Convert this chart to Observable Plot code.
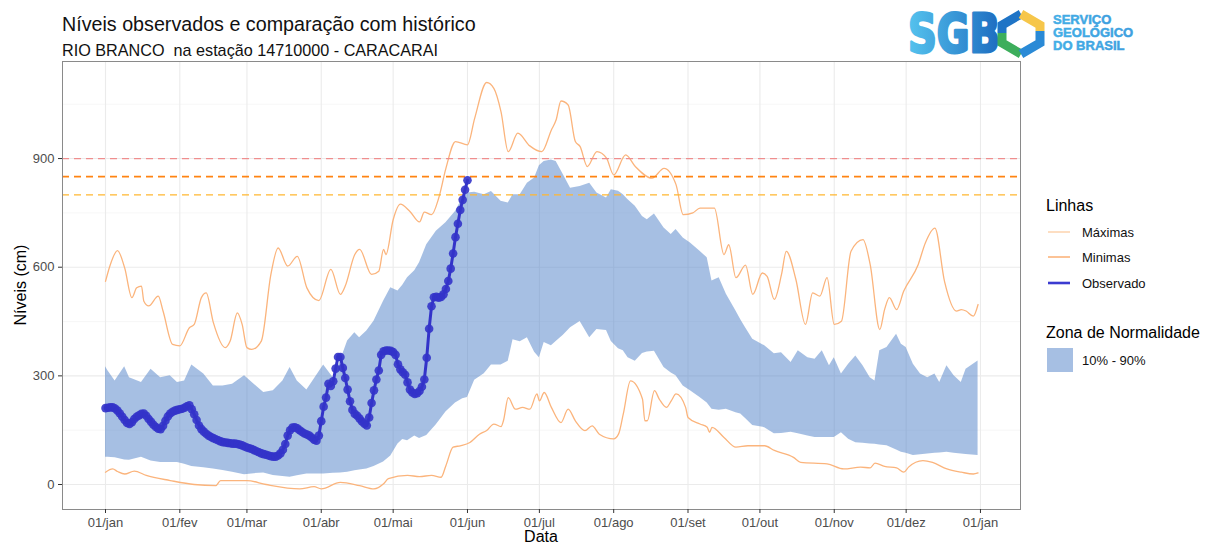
<!DOCTYPE html>
<html><head><meta charset="utf-8">
<script src="https://cdn.jsdelivr.net/npm/d3@7"></script>
<script src="https://cdn.jsdelivr.net/npm/@observablehq/plot@0.6"></script>
<style>
body{margin:0;background:#fff;font-family:"Liberation Sans",Arial,sans-serif;}
#wrap{position:relative;width:1211px;height:545px;overflow:hidden;background:#fff;}
#chart{position:absolute;left:0;top:0;}
#overlay{position:absolute;left:0;top:0;pointer-events:none;}
#overlay text{white-space:pre;}
</style></head><body><div id="wrap"><div id="chart"></div>
<svg id="overlay" width="1211" height="545" xmlns="http://www.w3.org/2000/svg" font-family="Liberation Sans, Arial, sans-serif">
  <defs>
    <linearGradient id="sgb" x1="0" x2="1" y1="0" y2="0">
      <stop offset="0" stop-color="#55C3EE"/><stop offset="1" stop-color="#1D6CC0"/>
    </linearGradient>
    <linearGradient id="sgbt" x1="0" x2="1" y1="0" y2="0">
      <stop offset="0" stop-color="#43AEE6"/><stop offset="1" stop-color="#3E9FDF"/>
    </linearGradient>
  </defs>
  <text x="62" y="31" font-size="19.7" fill="#111">Níveis observados e comparação com histórico</text>
  <text x="62" y="56" font-size="16.2" fill="#111" xml:space="preserve">RIO BRANCO  na estação 14710000 - CARACARAI</text>
  <!-- logo -->
  <text x="908" y="52" font-size="54" font-weight="bold" font-family="DejaVu Sans, sans-serif" fill="url(#sgb)" stroke="url(#sgb)" stroke-width="3" stroke-linejoin="round" textLength="92" lengthAdjust="spacingAndGlyphs">SGB</text>
  <g fill="none" stroke-width="9" stroke-linejoin="miter">
    <path d="M1021,14 L1002,25 L1002,33" stroke="#1F74C6"/>
    <path d="M1002,33 L1002,43 L1021,54" stroke="#3DAE5C"/>
    <path d="M1021,14 L1040,25 L1040,31" stroke="#F6C64A"/>
    <path d="M1040,31 L1040,43 L1021,54" stroke="#2A8AD6"/>
  </g>
  <g font-size="13" font-weight="bold" fill="url(#sgbt)" stroke="url(#sgbt)" stroke-width="0.5">
    <text x="1053" y="24">SERVIÇO</text>
    <text x="1053" y="37">GEOLÓGICO</text>
    <text x="1053" y="50">DO BRASIL</text>
  </g>
  <!-- axis titles -->
  <text transform="translate(26,285) rotate(-90)" text-anchor="middle" font-size="16" fill="#000">Níveis (cm)</text>
  <text x="541" y="542" text-anchor="middle" font-size="16" fill="#000">Data</text>
  <!-- legend -->
  <text x="1046" y="211" font-size="16" fill="#000">Linhas</text>
  <line x1="1048" x2="1070" y1="232" y2="232" stroke="#FCC89A" stroke-width="1.2"/>
  <text x="1082" y="236.5" font-size="13" fill="#111">Máximas</text>
  <line x1="1048" x2="1070" y1="257" y2="257" stroke="#FBB47C" stroke-width="1.6"/>
  <text x="1082" y="261.5" font-size="13" fill="#111">Minimas</text>
  <line x1="1048" x2="1070" y1="283" y2="283" stroke="#3B3BD0" stroke-width="2.6"/>
  <text x="1082" y="287.5" font-size="13" fill="#111">Observado</text>
  <text x="1046" y="338" font-size="16" fill="#000">Zona de Normalidade</text>
  <rect x="1047" y="348" width="26" height="24" fill="rgb(77,127,199)" fill-opacity="0.5"/>
  <text x="1082" y="365" font-size="13" fill="#111">10% - 90%</text>
</svg>
</div>
<script>
// ---------- data ----------
const monthLabels = ["jan","fev","mar","abr","mai","jun","jul","ago","set","out","nov","dez","jan"];
const yMajor = [0, 300, 600, 900];
const yMinor = [150, 450, 750, 1050];
const refLevels = [900, 850, 800];

// observed: daily values from 01/jan
const obsValues = [211,212,213,213,210,204,196,187,178,170,
 167,172,181,187,191,195,196,190,181,173,
 165,159,154,153,162,176,188,196,201,204,
 206,208,209,212,216,219,208,194,178,163,
 153,146,140,135,131,128,125,122,119,117,
 116,115,114,113,113,112,110,108,105,102,
 100,98,95,92,89,86,84,82,80,78,
 77,77,80,86,96,112,135,150,157,158,
 155,150,145,141,138,135,130,124,121,135,
 175,215,240,278,272,285,320,352,352,322,
 294,262,230,206,195,190,182,174,168,163,
 185,225,260,290,315,358,368,370,370,369,
 366,358,332,318,310,303,282,262,254,250,
 252,258,270,290,350,430,492,517,518,516,
 518,525,540,562,596,638,683,720,758,786,
 814,840];

const maxDays = [0,2,5,8,11,13,15,16,18,22,24,28,31,35,37,40,42,45,50,52,55,57,59,61,65,69,72,76,80,84,89,94,98,100,104,106,111,114,116,117,120,123,127,131,133,136,139,142,146,151,154,159,162,165,168,172,177,182,186,188,190,193,196,198,201,205,209,212,217,221,228,233,238,241,245,248,254,258,260,263,267,270,274,276,279,282,284,288,292,295,298,301,304,307,311,316,319,323,325,327,330,333,339,342,346,350,355,357,359,362,364];
const maxValues = [561,607,646,598,516,543,548,506,493,520,479,387,383,433,442,516,529,447,378,396,474,442,378,373,396,580,653,603,630,543,508,594,525,548,635,649,580,589,649,635,731,774,754,725,752,745,791,873,947,938,1011,1110,1094,1029,919,970,935,919,979,1007,1059,1048,947,933,878,919,901,855,910,878,846,873,828,745,750,763,763,635,662,571,606,525,584,575,511,580,644,566,442,529,520,571,442,451,644,676,607,428,483,516,483,534,607,667,708,561,479,483,479,465,497];

const minDays = [0,3,5,8,12,17,27,37,46,48,59,67,81,87,90,98,106,112,116,118,126,131,136,140,142,145,148,152,156,159,162,165,166,168,171,174,177,180,181,183,186,190,193,196,200,203,206,212,214,216,219,224,225,226,229,231,234,236,238,242,243,248,251,252,253,258,263,268,275,279,287,290,301,308,315,319,321,325,330,333,335,341,345,351,357,362,364];
const minValues = [34,43,36,29,37,25,11,0,-3,11,11,0,-12,-6,-12,6,-3,-12,2,16,25,22,25,20,52,103,107,116,139,149,167,160,176,240,208,213,208,250,231,254,213,171,208,176,149,162,139,126,139,195,286,236,176,176,259,236,213,231,250,213,185,167,158,144,158,130,103,107,107,94,75,61,57,43,48,46,59,50,46,34,48,66,61,43,34,29,32];

const bandDays = [0,1,4,8,10,15,19,23,27,30,33,36,41,45,49,53,58,62,66,70,74,77,80,84,88,91,95,98,101,104,106,109,112,116,119,122,124,126,129,131,134,138,142,146,149,151,154,158,161,165,168,170,173,176,179,181,183,186,188,191,194,198,202,205,209,211,214,216,218,221,224,226,229,233,236,238,241,244,248,251,253,256,259,263,265,267,270,275,279,282,286,289,293,296,299,302,304,307,310,313,316,319,321,323,326,330,332,334,337,340,343,346,348,351,354,357,359,364];
const bandLo = [75,75,74,68,67,75,65,61,61,61,56,50,46,43,39,34,27,30,32,25,22,20,24,29,29,29,31,32,34,38,40,43,50,62,79,112,124,121,134,127,135,165,200,225,237,240,288,306,330,330,340,400,394,405,365,350,392,383,395,412,433,450,405,428,425,395,375,369,350,340,362,366,368,323,308,300,272,259,240,225,208,205,208,198,195,182,163,157,140,141,144,140,134,130,130,130,130,143,125,115,114,112,111,109,107,95,89,86,80,82,84,86,87,89,86,84,83,80];
const bandHi = [325,314,286,325,295,282,318,295,300,282,286,330,305,272,272,277,300,277,254,259,286,323,286,261,300,330,295,341,396,419,405,424,451,506,543,534,550,571,590,612,662,699,723,754,791,805,807,800,809,782,777,800,800,832,846,880,892,896,892,855,818,823,832,805,791,814,810,800,786,768,740,731,747,708,690,704,681,667,644,626,562,571,525,479,455,433,401,383,361,364,337,369,350,346,369,328,350,305,332,355,328,295,286,369,378,415,387,378,332,305,295,305,282,328,300,282,318,341];

// ---------- build ----------
const t0 = Date.UTC(2025, 0, 1);
const toDate = d => new Date(t0 + d * 864e5);
const monthTicks = monthLabels.map((m, i) => new Date(Date.UTC(2025, i, 1)));

const obs = obsValues.map((v, i) => ({date: toDate(i), v}));
const maxS = maxDays.map((d, i) => ({date: toDate(d), v: maxValues[i]}));
const minS = minDays.map((d, i) => ({date: toDate(d), v: minValues[i]}));
const band = bandDays.map((d, i) => ({date: toDate(d), lo: bandLo[i], hi: bandHi[i]}));

const refStyles = [
  {stroke: "#EF8E8E", strokeWidth: 1.3},
  {stroke: "#FF8412", strokeWidth: 1.7},
  {stroke: "#FFB730", strokeWidth: 1.3}
];

const chart = Plot.plot({
  width: 1030, height: 545,
  marginLeft: 62, marginRight: 10, marginTop: 61, marginBottom: 36,
  x: {type: "utc", domain: [toDate(-17.94), toDate(381.7)]},
  y: {domain: [-69, 1168]},
  style: {fontFamily: "Liberation Sans, Arial, sans-serif", fontSize: "13px", color: "#4D4D4D", background: "#fff", overflow: "visible"},
  marks: [
    Plot.ruleY(yMinor, {stroke: "#F4F4F4", strokeWidth: 0.7}),
    Plot.ruleY(yMajor, {stroke: "#EBEBEB", strokeWidth: 1.1}),
    Plot.ruleX(monthTicks, {stroke: "#EBEBEB", strokeWidth: 1.1}),
    Plot.areaY(band, {x: "date", y1: "lo", y2: "hi", fill: "rgb(77,127,199)", fillOpacity: 0.5}),
    Plot.line(maxS, {x: "date", y: "v", stroke: "#FBB47C", strokeWidth: 1.3, curve: "monotone-x"}),
    Plot.line(minS, {x: "date", y: "v", stroke: "#FBB47C", strokeWidth: 1.3, curve: "monotone-x"}),
    ...refLevels.map((lv, i) => Plot.ruleY([lv], {...refStyles[i], strokeDasharray: "7,5"})),
    Plot.line(obs, {x: "date", y: "v", stroke: "#3333C9", strokeWidth: 3}),
    Plot.dot(obs, {x: "date", y: "v", r: 4.3, fill: "#3333C9", fillOpacity: 0.9}),
    Plot.frame({stroke: "#8A8A8A"}),
    Plot.axisX({ticks: monthTicks, tickFormat: d => "01/" + monthLabels[d.getUTCMonth()], tickSize: 4, tickPadding: 4, label: null, stroke: "#333"}),
    Plot.axisY({ticks: yMajor, tickSize: 4, tickPadding: 4, label: null, stroke: "#333"})
  ]
});
document.getElementById("chart").appendChild(chart);
</script>
</body></html>
